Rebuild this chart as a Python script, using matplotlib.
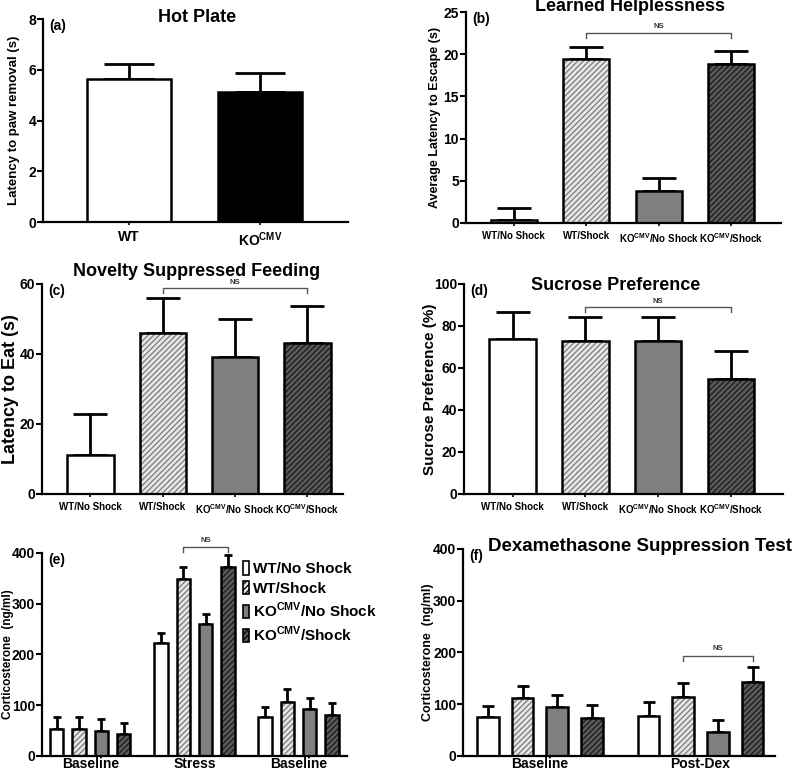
import numpy as np
import matplotlib
matplotlib.use("Agg")
import matplotlib.pyplot as plt
from matplotlib.patches import Patch

plt.rcParams["font.family"] = ["Liberation Sans", "DejaVu Sans"]
plt.rcParams["font.weight"] = "bold"
plt.rcParams["mathtext.fontset"] = "custom"
plt.rcParams["mathtext.rm"] = "Liberation Sans:bold"
plt.rcParams["mathtext.bf"] = "Liberation Sans:bold"
plt.rcParams["hatch.linewidth"] = 0.9

KO = r"KO$^{\mathregular{CMV}}$"
groups4 = ["WT/No Shock", "WT/Shock", KO + "/No Shock", KO + "/Shock"]

# (a) hot plate
hp_labels = ["WT", KO]
hp_mean = [5.65, 5.15]
hp_top = [6.25, 5.9]

# (b) learned helplessness
lh_mean = [0.35, 19.4, 3.8, 18.8]
lh_top = [1.8, 20.9, 5.3, 20.4]

# (c) novelty suppressed feeding
nsf_mean = [11.0, 46.0, 39.2, 43.0]
nsf_top = [22.8, 56.0, 50.0, 53.8]

# (d) sucrose preference
sp_mean = [74.0, 73.0, 73.0, 54.8]
sp_top = [86.5, 84.5, 84.5, 68.0]

# (e) corticosterone, stress
cort_groups = ["Baseline", "Stress", "Baseline"]
cort_mean = [[53, 53, 50, 44], [222, 349, 260, 373], [76, 107, 93, 80]]
cort_top = [[76, 76, 72, 65], [242, 373, 280, 396], [97, 131, 115, 104]]

# (f) dexamethasone suppression
dex_groups = ["Baseline", "Post-Dex"]
dex_mean = [[75, 112, 94, 73], [77, 114, 46, 142]]
dex_top = [[97, 136, 117, 99], [105, 141, 70, 172]]

# styles for the four groups: face, hatch, hatch colour
STYLES = [
    ("white", None, None),
    ("#e6e6e6", "//////", "#7a7a7a"),
    ("#7f7f7f", None, None),
    ("#5a5a5a", "//////", "#1a1a1a"),
]


def draw_bars(ax, xs, means, tops, styles, width, capsize):
    for x, m, t, st in zip(xs, means, tops, styles):
        face, hatch, hcol = st
        ax.errorbar(x, m, yerr=[[0], [t - m]], fmt="none", ecolor="black",
                    elinewidth=2, capsize=capsize, capthick=2, zorder=1)
        if hatch:
            ax.bar(x, m, width, color=face, hatch=hatch, edgecolor=hcol,
                   linewidth=0, zorder=2)
            ax.bar(x, m, width, fill=False, edgecolor="black", linewidth=1.8,
                   zorder=3)
        else:
            ax.bar(x, m, width, color=face, edgecolor="black", linewidth=1.8,
                   zorder=2)


def style_axis(ax, label, ylabel, ylabel_size, ylabel_x, xtick_size=7):
    for s in ["top", "right"]:
        ax.spines[s].set_visible(False)
    for s in ["left", "bottom"]:
        ax.spines[s].set_linewidth(1.6)
    ax.tick_params(axis="y", direction="out", length=4, width=1.5,
                   labelsize=10, pad=1)
    ax.tick_params(axis="x", direction="out", length=2, width=1.2,
                   labelsize=xtick_size, pad=4)
    ax.text(0.02, 1.0, label, transform=ax.transAxes, fontsize=10,
            fontweight="bold", va="top", ha="left")
    ax.set_ylabel(ylabel, fontsize=ylabel_size, fontweight="bold",
                  va="center")
    ax.yaxis.set_label_coords(ylabel_x, 0.5)


def bracket(ax, x0, x1, y, tick, text_off, fs=5.5):
    ax.plot([x0, x0, x1, x1], [y - tick, y, y, y - tick], color="#555555",
            lw=1.0, clip_on=False, zorder=4)
    ax.text((x0 + x1) / 2, y + text_off, "NS", ha="center", va="bottom",
            fontsize=fs, fontweight="bold", color="#333333", clip_on=False)


fig = plt.figure(figsize=(8.0, 7.71), dpi=100)

# (a)
ax = fig.add_axes([0.054, 0.712, 0.381, 0.263])
xa = np.arange(2)
draw_bars(ax, xa, hp_mean, hp_top, [("white", None, None), ("black", None, None)],
          0.64, 18)
ax.set_xlim(-0.65, 1.67)
ax.set_ylim(0, 8)
ax.set_yticks([0, 2, 4, 6, 8])
ax.set_xticks(xa, hp_labels)
style_axis(ax, "(a)", "Latency to paw removal (s)", 9.5, -0.095, xtick_size=10)
ax.text(0.505, 1.01, "Hot Plate", transform=ax.transAxes, ha="center",
        va="center", fontsize=13, fontweight="bold")

# (b)
ax = fig.add_axes([0.5825, 0.7108, 0.394, 0.2736])
x4 = np.arange(4)
draw_bars(ax, x4, lh_mean, lh_top, STYLES, 0.64, 12)
ax.set_xlim(-0.66, 3.69)
ax.set_ylim(0, 25)
ax.set_yticks([0, 5, 10, 15, 20, 25])
ax.set_xticks(x4, groups4)
style_axis(ax, "(b)", "Average Latency to Escape (s)", 9, -0.097)
bracket(ax, 1, 3, 22.5, 0.6, 0.4)
ax.text(0.52, 1.024, "Learned Helplessness", transform=ax.transAxes,
        ha="center", va="center", fontsize=13, fontweight="bold")

# (c)
ax = fig.add_axes([0.0525, 0.3593, 0.376, 0.2724])
draw_bars(ax, x4, nsf_mean, nsf_top, STYLES, 0.64, 12)
ax.set_xlim(-0.67, 3.49)
ax.set_ylim(0, 60)
ax.set_yticks([0, 20, 40, 60])
ax.set_xticks(x4, groups4)
style_axis(ax, "(c)", "Latency to Eat (s)", 13, -0.106)
bracket(ax, 1, 3, 58.8, 1.5, 0.6)
ax.text(0.515, 1.057, "Novelty Suppressed Feeding", transform=ax.transAxes,
        ha="center", va="center", fontsize=13, fontweight="bold")

# (d)
ax = fig.add_axes([0.58, 0.3593, 0.399, 0.2724])
draw_bars(ax, x4, sp_mean, sp_top, STYLES, 0.64, 12)
ax.set_xlim(-0.67, 3.72)
ax.set_ylim(0, 100)
ax.set_yticks([0, 20, 40, 60, 80, 100])
ax.set_xticks(x4, groups4)
style_axis(ax, "(d)", "Sucrose Preference (%)", 11, -0.107)
bracket(ax, 1, 3, 89, 2.2, 1.0)
ax.text(0.476, 0.995, "Sucrose Preference", transform=ax.transAxes,
        ha="center", va="center", fontsize=13, fontweight="bold")

# (e)
ax = fig.add_axes([0.0525, 0.0195, 0.381, 0.2633])
gap_e = 4.67
for g in range(len(cort_groups)):
    xs = g * gap_e + x4
    draw_bars(ax, xs, cort_mean[g], cort_top[g], STYLES, 0.6, 2.8)
ax.set_xlim(-0.66, 13.0)
ax.set_ylim(0, 400)
ax.set_yticks([0, 100, 200, 300, 400])
ax.set_xticks([g * gap_e + 1.5 for g in range(len(cort_groups))], cort_groups)
style_axis(ax, "(e)", "Corticosterone  (ng/ml)", 8.5, -0.112, xtick_size=10)
ax.tick_params(axis="x", length=0, pad=1)
bracket(ax, gap_e + 1, gap_e + 3, 411, 10, 6)
handles = []
for (face, hatch, hcol), name in zip(STYLES, groups4):
    handles.append(Patch(facecolor=face, hatch=hatch,
                         edgecolor="black", linewidth=1.2, label=name))
ax.legend(handles=handles, loc="upper left", bbox_to_anchor=(0.64, 0.99),
          frameon=False, handlelength=0.35, handleheight=1.0,
          handletextpad=0.3, labelspacing=0.3, borderaxespad=0,
          prop={"weight": "bold", "size": 11})

# (f)
ax = fig.add_axes([0.579, 0.0195, 0.39, 0.2685])
gap_f = 4.63
for g in range(len(dex_groups)):
    xs = g * gap_f + x4
    draw_bars(ax, xs, dex_mean[g], dex_top[g], STYLES, 0.62, 4.3)
ax.set_xlim(-0.71, 8.28)
ax.set_ylim(0, 400)
ax.set_yticks([0, 100, 200, 300, 400])
ax.set_xticks([g * gap_f + 1.5 for g in range(len(dex_groups))], dex_groups)
style_axis(ax, "(f)", "Corticosterone  (ng/ml)", 9, -0.112, xtick_size=10)
ax.tick_params(axis="x", length=0, pad=1)
bracket(ax, gap_f + 1, gap_f + 3, 194, 10, 6)
ax.text(0.08, 1.014, "Dexamethasone Suppression Test", transform=ax.transAxes,
        ha="left", va="center", fontsize=13.5, fontweight="bold",
        clip_on=False)

fig.savefig("out.png", dpi=100)
